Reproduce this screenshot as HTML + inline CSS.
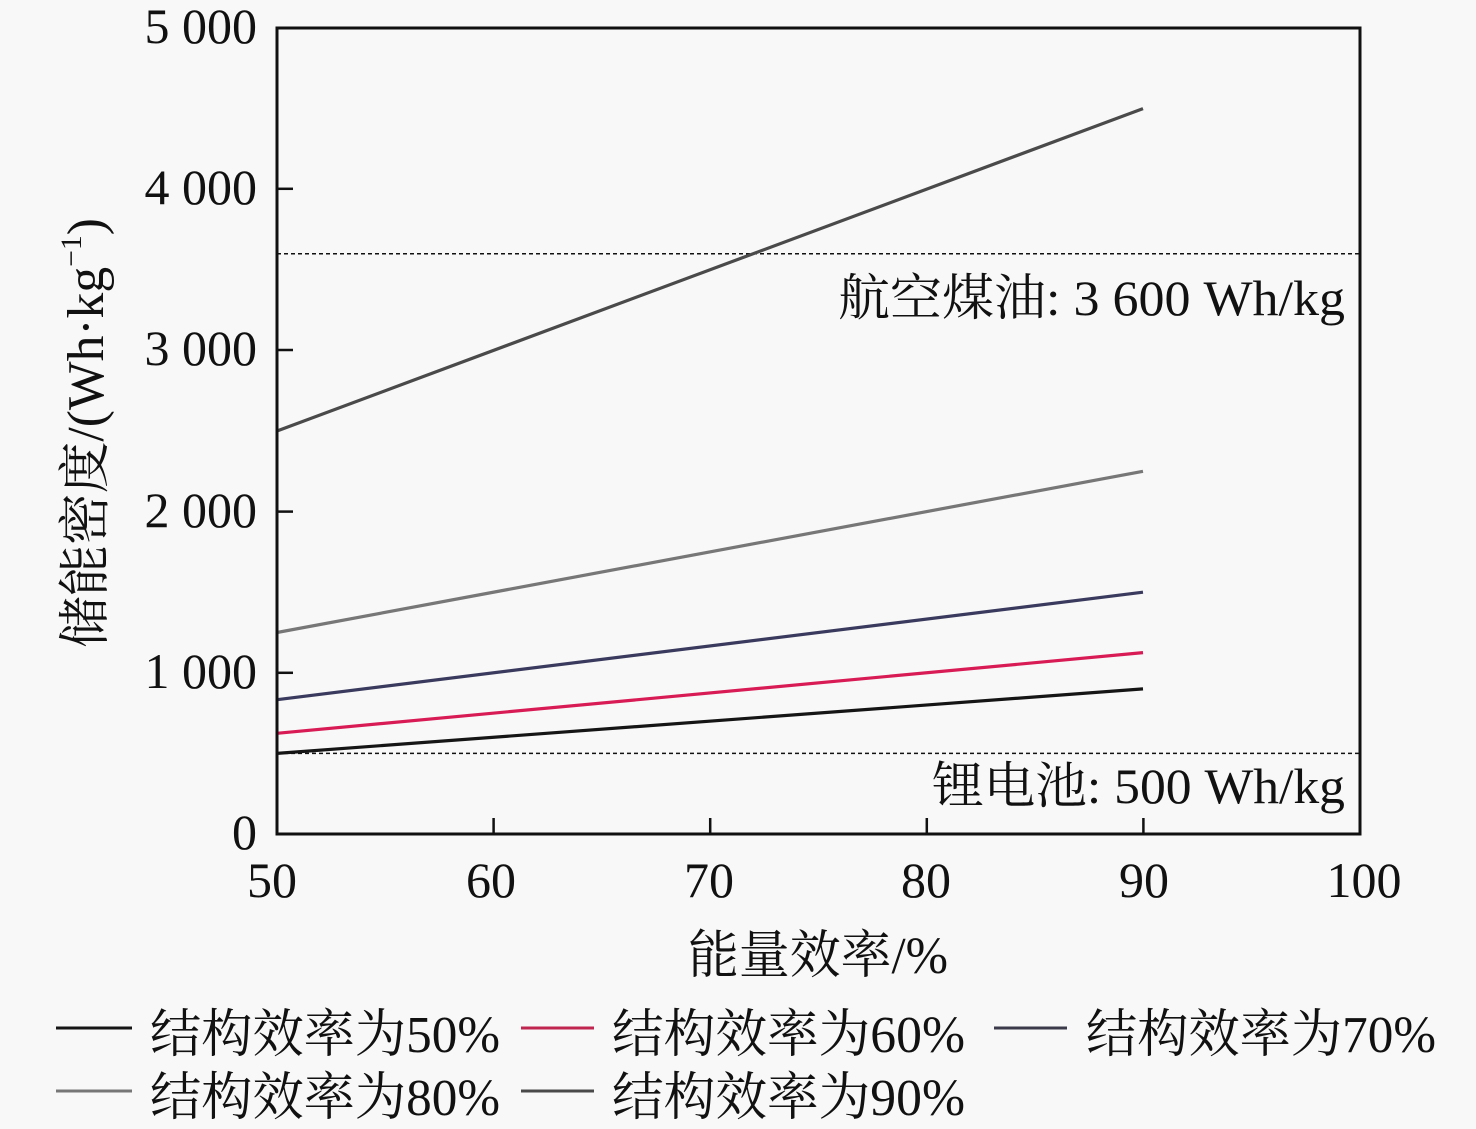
<!DOCTYPE html>
<html><head><meta charset="utf-8"><style>
html,body{margin:0;padding:0;background:#f8f8f8;}
svg{display:block;}
text{font-family:"Liberation Serif","Noto Serif CJK SC",serif;fill:#111;}
</style></head><body>
<svg width="1476" height="1129" viewBox="0 0 1476 1129" xmlns="http://www.w3.org/2000/svg">
<rect x="0" y="0" width="1476" height="1129" fill="#f8f8f8"/>
<!-- dashed reference lines -->
<line x1="277" y1="253.7" x2="1360" y2="253.7" stroke="#111" stroke-width="1.5" stroke-dasharray="4,3"/>
<line x1="277" y1="753.4" x2="1360" y2="753.4" stroke="#111" stroke-width="1.5" stroke-dasharray="4,3"/>
<!-- series -->
<line x1="277" y1="753.4" x2="1143" y2="688.9" stroke="#151515" stroke-width="3.2"/>
<line x1="277" y1="733.3" x2="1143" y2="652.6" stroke="#d81b55" stroke-width="3.2"/>
<line x1="277" y1="699.7" x2="1143" y2="592.2" stroke="#3a3a5e" stroke-width="3.2"/>
<line x1="277" y1="632.5" x2="1143" y2="471.3" stroke="#777" stroke-width="3.2"/>
<line x1="277" y1="431" x2="1143" y2="108.6" stroke="#4a4a4a" stroke-width="3.2"/>
<!-- axes box -->
<rect x="277" y="28" width="1083" height="806" fill="none" stroke="#111" stroke-width="3"/>
<!-- ticks -->
<g stroke="#111" stroke-width="2.5">
<line x1="277" y1="188.8" x2="293" y2="188.8"/>
<line x1="277" y1="350" x2="293" y2="350"/>
<line x1="277" y1="511.6" x2="293" y2="511.6"/>
<line x1="277" y1="672.8" x2="293" y2="672.8"/>
<line x1="493.6" y1="834" x2="493.6" y2="818"/>
<line x1="710.2" y1="834" x2="710.2" y2="818"/>
<line x1="926.8" y1="834" x2="926.8" y2="818"/>
<line x1="1143.4" y1="834" x2="1143.4" y2="818"/>
</g>
<!-- y tick labels -->
<g font-size="50" text-anchor="end">
<text x="257" y="43">5 000</text>
<text x="257" y="204">4 000</text>
<text x="257" y="365">3 000</text>
<text x="257" y="527">2 000</text>
<text x="257" y="688">1 000</text>
<text x="257" y="849">0</text>
</g>
<!-- x tick labels -->
<g font-size="50" text-anchor="middle">
<text x="272" y="897">50</text>
<text x="491" y="897">60</text>
<text x="709" y="897">70</text>
<text x="926" y="897">80</text>
<text x="1144" y="897">90</text>
<text x="1364" y="897">100</text>
</g>
<!-- axis titles -->
<text x="688" y="973" font-size="52" textLength="260" lengthAdjust="spacingAndGlyphs">能量效率/%</text>
<text transform="translate(103,648) rotate(-90)" font-size="52" textLength="430" lengthAdjust="spacingAndGlyphs">储能密度/(Wh·kg<tspan font-size="30" dy="-22">−1</tspan><tspan dy="22">)</tspan></text>
<!-- annotations -->
<text x="838" y="315" font-size="50" textLength="507" lengthAdjust="spacingAndGlyphs">航空煤油: 3 600 Wh/kg</text>
<text x="932" y="803" font-size="50" textLength="413" lengthAdjust="spacingAndGlyphs">锂电池: 500 Wh/kg</text>
<!-- legend -->
<g stroke-width="3">
<line x1="56" y1="1028" x2="132" y2="1028" stroke="#151515"/>
<line x1="521" y1="1028" x2="594" y2="1028" stroke="#c0254f"/>
<line x1="994" y1="1028" x2="1067" y2="1028" stroke="#3a3a4a"/>
<line x1="56" y1="1091" x2="132" y2="1091" stroke="#777"/>
<line x1="521" y1="1091" x2="594" y2="1091" stroke="#4a4a4a"/>
</g>
<g font-size="52">
<text x="150" y="1052" textLength="350" lengthAdjust="spacingAndGlyphs">结构效率为50%</text>
<text x="612" y="1052" textLength="353" lengthAdjust="spacingAndGlyphs">结构效率为60%</text>
<text x="1086" y="1052" textLength="350" lengthAdjust="spacingAndGlyphs">结构效率为70%</text>
<text x="150" y="1115" textLength="350" lengthAdjust="spacingAndGlyphs">结构效率为80%</text>
<text x="612" y="1115" textLength="353" lengthAdjust="spacingAndGlyphs">结构效率为90%</text>
</g>
</svg>
</body></html>
